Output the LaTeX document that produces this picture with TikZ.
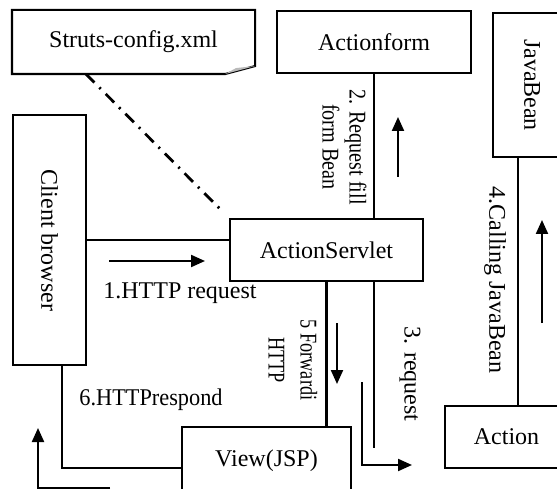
\documentclass[tikz,border=0pt]{standalone}
\usepackage{fontspec}
\setmainfont{Liberation Serif}
\usetikzlibrary{arrows.meta, positioning}

\newcommand{\squeeze}[2]{\scalebox{#1}[1]{#2}}

\begin{document}
\begin{tikzpicture}[
            x=1pt, y=-1pt,
            font=\fontsize{24}{27}\selectfont,
            line width=2.1pt,
            box/.style={draw, rectangle, inner sep=0pt, align=center},
            lbl/.style={inner sep=0pt, align=center},
            vlbl/.style={lbl, rotate=-90},
            arrow1/.style={-{Triangle[length=14pt, width=12pt]}},
            dashdot/.style={line width=2.8pt, dash pattern=on 12pt off 7pt on 2pt off 7pt},
        ]
            \useasboundingbox (0,0) rectangle (557,489);

            % Nodes
            \node[lbl, minimum width=241pt, minimum height=62pt] (struts) at (133.5,42) {Struts-config.xml};
            \node[box, minimum width=194pt, minimum height=62pt] (actionform) at (374,42) {Actionform};
            \node[box, minimum width=78pt, minimum height=144pt] (javabean) at (532,85) {\rotatebox{-90}{JavaBean}};
            \node[box, minimum width=73pt, minimum height=250pt] (client) at (49.5,240) {\rotatebox{-90}{Client browser}};
            \node[box, minimum width=193pt, minimum height=62pt] (servlet) at (326.5,250) {ActionServlet};
            \node[box, minimum width=123pt, minimum height=62pt] (action) at (506.5,437) {Action};
            \node[box, minimum width=169pt, minimum height=70pt] (view) at (266.5,462) {\raisebox{7pt}{View(JSP)}};

            % note with folded corner
            \draw (struts.south west) -- (struts.north west) -- (struts.north east) -- ([yshift=8pt]struts.south east) -- ([xshift=-30pt]struts.south east) -- cycle;
            \fill[gray!55] ([xshift=-30pt]struts.south east) -- ([yshift=8pt]struts.south east) -- ([xshift=-19pt, yshift=6pt]struts.south east) -- cycle;

            % Free arrow ends
            \coordinate (a1s) at (109,261);  \coordinate (a1e) at (205,261);
            \coordinate (a2s) at (398,177);  \coordinate (a2e) at (398,117);
            \coordinate (a3s) at (362,382);  \coordinate (a3e) at (412,465);
            \coordinate (a4s) at (542,323);  \coordinate (a4e) at (542,220);
            \coordinate (a5s) at (337,323);  \coordinate (a5e) at (337,384);
            \coordinate (a6s) at (110,488);  \coordinate (a6e) at (38,428);
            \coordinate (req) at (374,448);

            % Lines
            \draw (client.east) -- (client.east -| servlet.west);
            \draw[dashdot] ([xshift=74pt]struts.south west) -- ([xshift=-7pt, yshift=7pt]servlet.north west);
            \draw (actionform.south) -- (actionform.south |- servlet.north);
            \draw (servlet.south) -- (servlet.south |- view.north);
            \draw (req |- servlet.south) -- (req);
            \draw ([xshift=-14pt]javabean.south) -- ([xshift=-14pt]javabean.south |- action.north);
            \draw ([xshift=12.5pt]client.south) |- ([yshift=-6pt]view.west);

            % Arrows
            \draw[arrow1] (a1s) -- (a1e);
            \draw[arrow1] (a2s) -- (a2e);
            \draw[arrow1] (a3s) |- (a3e);
            \draw[arrow1] (a4s) -- (a4e);
            \draw[arrow1] (a5s) -- (a5e);
            \draw[arrow1] (a6s) -| (a6e);

            % Labels
            \node[lbl] (l1) at (180,293) {1.HTTP request};
            \node[vlbl] (l2) at (344.5,147) {\squeeze{.84}{2. Request fill}\\\squeeze{.84}{form Bean}};
            \node[vlbl] (l3) at (410,374) {3. request};
            \node[vlbl] (l4) at (495,280) {4.Calling JavaBean};
            \node[vlbl] (l5) at (293,360) {\squeeze{.76}{5 Forwardi}\\[5pt]\squeeze{.76}{HTTP}};
            \node[lbl] (l6) at (151,400) {\squeeze{.93}{6.HTTPrespond}};

        \end{tikzpicture}
\end{document}
